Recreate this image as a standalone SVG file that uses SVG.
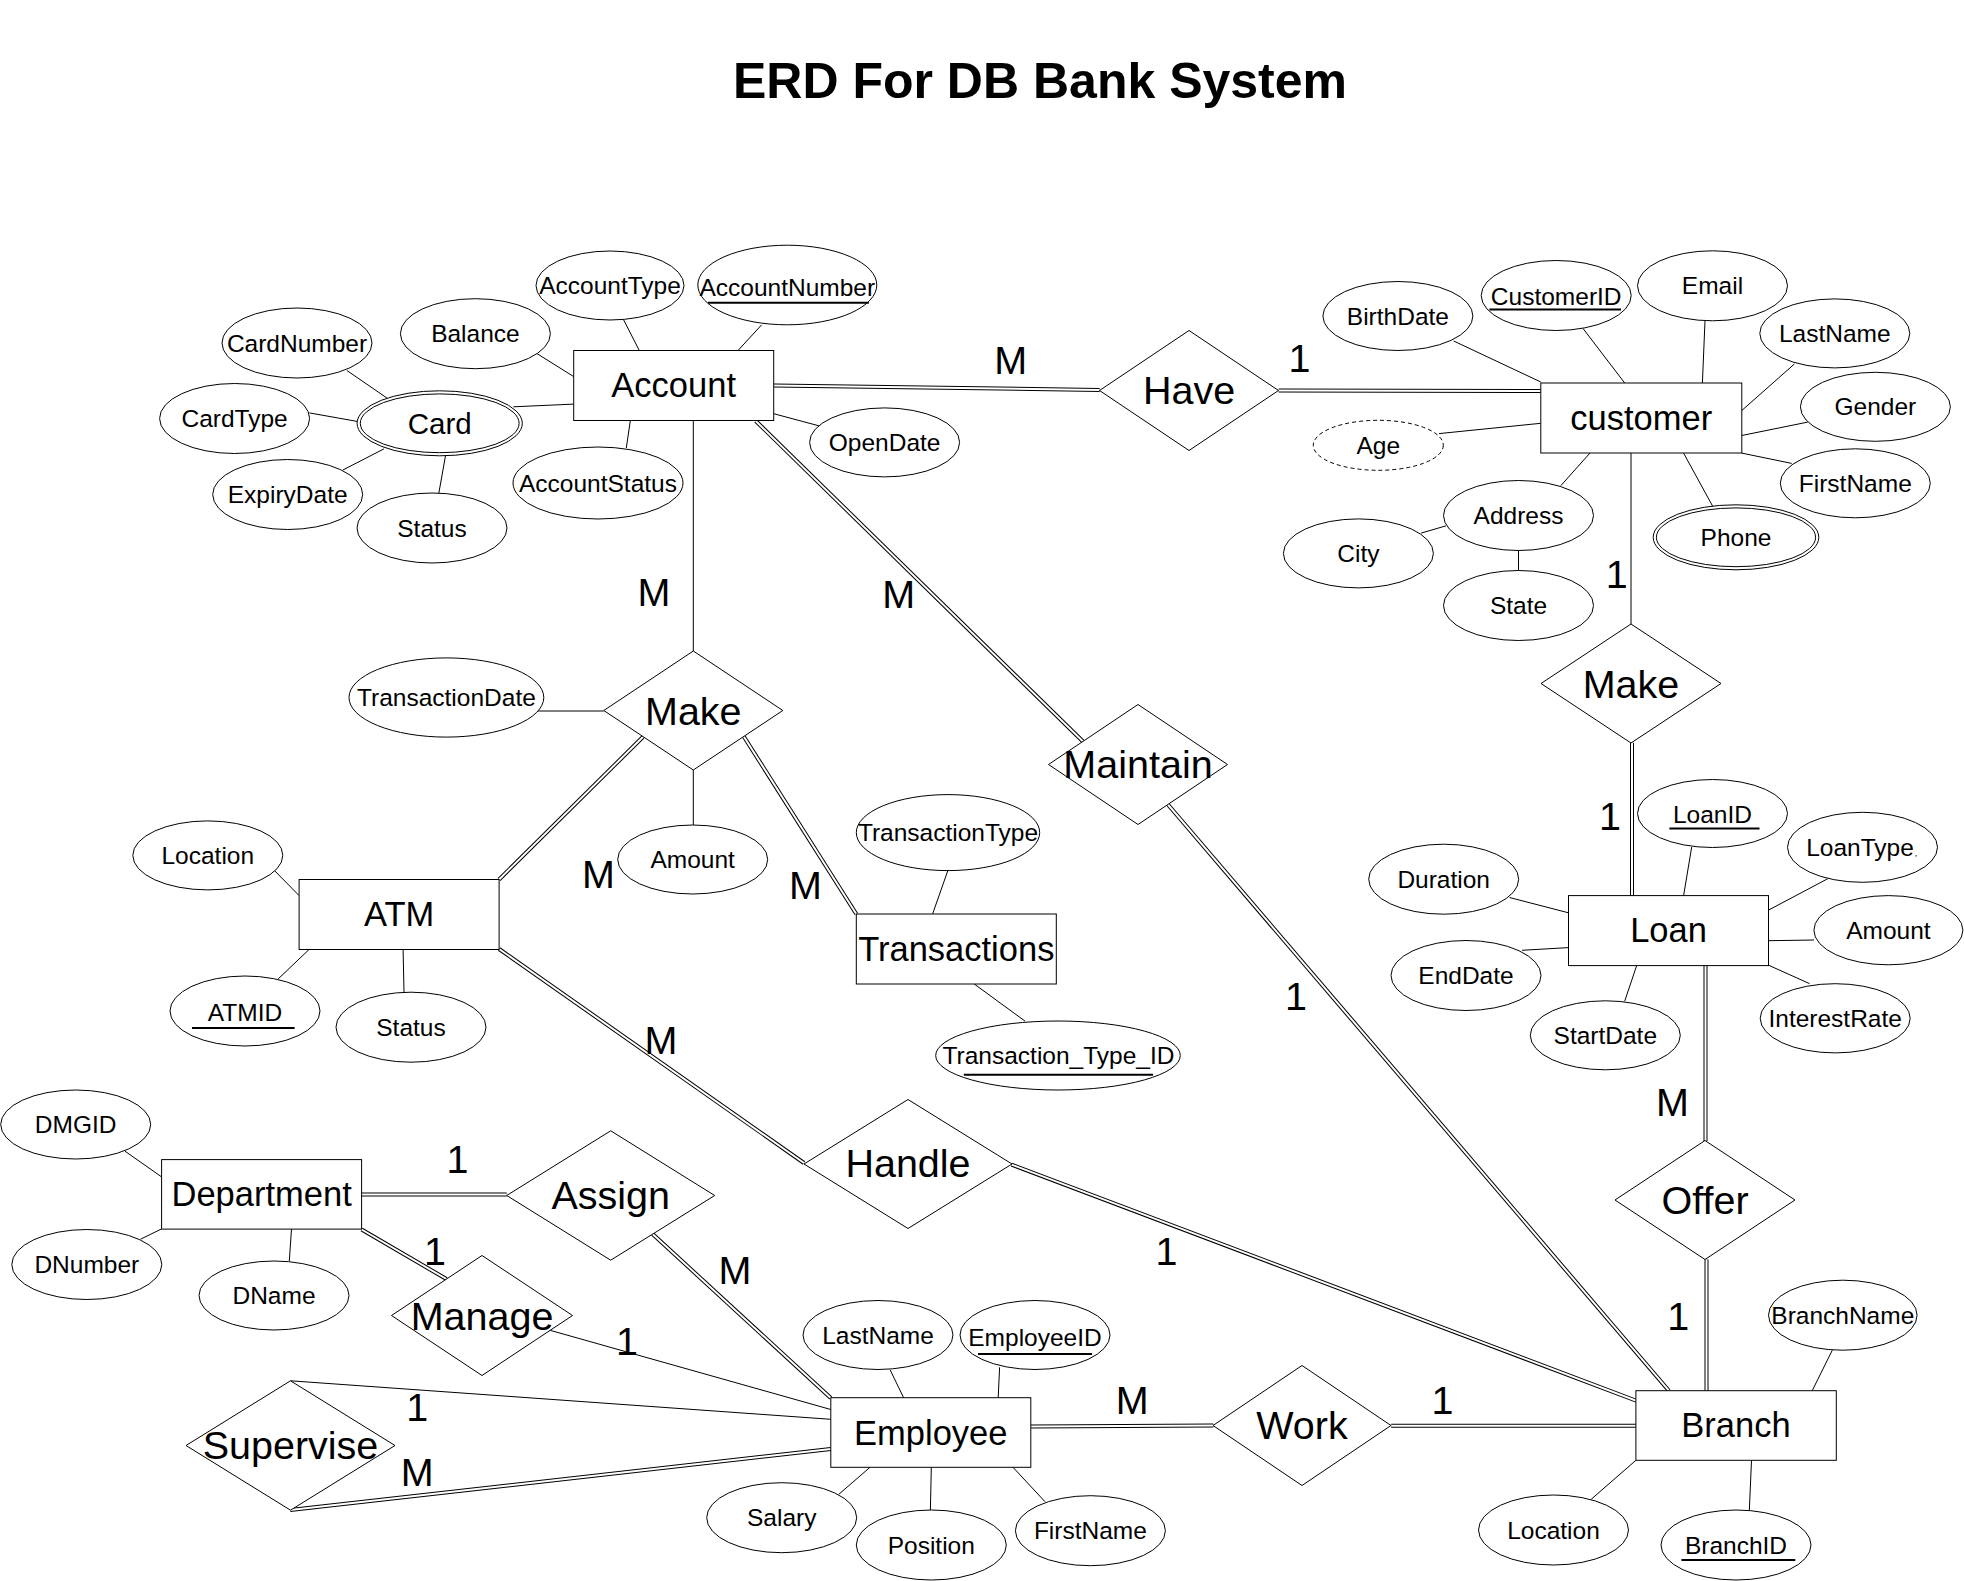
<svg xmlns="http://www.w3.org/2000/svg" width="1964" height="1581" viewBox="0 0 1964 1581">
<style>
.sh{fill:#fff;stroke:#000;stroke-width:1}
.ln line{stroke:#000;stroke-width:1}
.dbo{stroke:#000;stroke-width:4;fill:none}
.dbi{stroke:#fff;stroke-width:2;fill:none}
text{font-family:"Liberation Sans",Arial,Helvetica,sans-serif;text-anchor:middle;fill:#000}
.a{font-size:24.5px}
.en{font-size:34.5px}
.rl{font-size:39.5px}
.cd{font-size:39.5px}
.ti{font-size:50px;font-weight:bold}
.ul{stroke:#000;stroke-width:2}
.dash{stroke-dasharray:4 3}
</style>
<defs>
<path id="d1" d="M773.7 385.5 L1099.6 390"/>
<path id="d2" d="M1278.6 390.5 L1540.8 391"/>
<path id="d3" d="M755.8 421 L1083 741.5"/>
<path id="d4" d="M642.9 737 L499.1 879.5"/>
<path id="d5" d="M743.8 736.5 L856.3 914"/>
<path id="d6" d="M1632 742.8 V895.6"/>
<path id="d7" d="M1705.5 965.2 V1140.9"/>
<path id="d8" d="M1706.5 1259.5 V1390.7"/>
<path id="d9" d="M1167.9 804.5 L1668.9 1390.7"/>
<path id="d10" d="M499.1 949 L804 1163"/>
<path id="d11" d="M1011.6 1164.6 L1637 1401"/>
<path id="d12" d="M361.6 1194.5 H506.7"/>
<path id="d13" d="M361.6 1229.5 L446.4 1279"/>
<path id="d14" d="M652.6 1234 L830.8 1398"/>
<path id="d15" d="M290.2 1510 L830.8 1449"/>
<path id="d16" d="M1030.8 1426.5 L1213.4 1425.5"/>
<path id="d17" d="M1391.2 1425.7 H1635.9"/>
</defs>
<rect width="1964" height="1581" fill="#fff"/>
<text class="ti" x="1040" y="98">ERD For DB Bank System</text>

<g id="connectors">
<g class="ln">
<line x1="623.7" y1="320" x2="639.3" y2="350.5"/>
<line x1="761.6" y1="324.9" x2="738" y2="350.5"/>
<line x1="537" y1="353.6" x2="573.7" y2="376.6"/>
<line x1="513.4" y1="406.8" x2="573.7" y2="404.1"/>
<line x1="630.4" y1="420.2" x2="626.3" y2="448"/>
<line x1="773.7" y1="413.7" x2="819.6" y2="426"/>
<line x1="346.9" y1="370.5" x2="387.5" y2="398.4"/>
<line x1="309.4" y1="412.9" x2="357.1" y2="421.4"/>
<line x1="342.9" y1="470" x2="383.9" y2="448.9"/>
<line x1="438.8" y1="493.3" x2="445.5" y2="455.8"/>
<line x1="1453.7" y1="341" x2="1540.8" y2="382"/>
<line x1="1583.2" y1="328.7" x2="1624.7" y2="383"/>
<line x1="1705" y1="320.7" x2="1702.4" y2="383"/>
<line x1="1794.4" y1="364" x2="1741.7" y2="410.6"/>
<line x1="1807.8" y1="422.1" x2="1741.7" y2="435.5"/>
<line x1="1791.7" y1="463.4" x2="1741.7" y2="453.1"/>
<line x1="1439" y1="433.6" x2="1540.8" y2="423.3"/>
<line x1="1589.9" y1="453.1" x2="1560.9" y2="485.6"/>
<line x1="1683.6" y1="453.1" x2="1712.7" y2="506.3"/>
<line x1="1421.1" y1="533.1" x2="1446.1" y2="525.8"/>
<line x1="1518.5" y1="550.3" x2="1518.5" y2="570.6"/>
<line x1="693.3" y1="420.2" x2="693.3" y2="651"/>
<line x1="538" y1="711" x2="603.8" y2="711"/>
<line x1="693.3" y1="770" x2="693.3" y2="825"/>
<line x1="1631" y1="453.1" x2="1631" y2="624"/>
<line x1="947.8" y1="870.7" x2="932.6" y2="914"/>
<line x1="973.7" y1="983.6" x2="1025" y2="1021.1"/>
<line x1="274.6" y1="870.7" x2="299.1" y2="895.6"/>
<line x1="309.4" y1="949.2" x2="278.1" y2="979"/>
<line x1="403.1" y1="949.2" x2="404" y2="992.4"/>
<line x1="1691.7" y1="847" x2="1683.6" y2="895.6"/>
<line x1="1827.8" y1="878.7" x2="1768.5" y2="910.1"/>
<line x1="1509.5" y1="897.5" x2="1568.5" y2="912.8"/>
<line x1="1814" y1="940" x2="1768.5" y2="940.7"/>
<line x1="1522" y1="950.3" x2="1568.5" y2="947.6"/>
<line x1="1624.7" y1="1001.2" x2="1636.8" y2="965.2"/>
<line x1="1809.5" y1="983.6" x2="1768.5" y2="965.2"/>
<line x1="125" y1="1151.2" x2="161.6" y2="1176.9"/>
<line x1="140.6" y1="1239.2" x2="161.6" y2="1228.9"/>
<line x1="291.5" y1="1228.9" x2="289.3" y2="1261"/>
<line x1="890.2" y1="1370" x2="903.6" y2="1397.7"/>
<line x1="999.6" y1="1367.3" x2="998.2" y2="1397.7"/>
<line x1="838.8" y1="1494.3" x2="870" y2="1467.3"/>
<line x1="931.3" y1="1467.3" x2="930.4" y2="1510"/>
<line x1="1013" y1="1467.3" x2="1045" y2="1501.7"/>
<line x1="550.4" y1="1330.4" x2="830.8" y2="1409.5"/>
<line x1="290.5" y1="1380.8" x2="830.8" y2="1419.3"/>
<line x1="1832.3" y1="1350.2" x2="1812.2" y2="1390.7"/>
<line x1="1635.9" y1="1460.3" x2="1591.2" y2="1499.3"/>
<line x1="1751.5" y1="1460.3" x2="1749.3" y2="1511"/>
</g>
<g class="dbo">
<use href="#d1"/><use href="#d2"/><use href="#d3"/><use href="#d4"/><use href="#d5"/><use href="#d6"/><use href="#d7"/><use href="#d8"/><use href="#d9"/><use href="#d10"/><use href="#d11"/><use href="#d12"/><use href="#d13"/><use href="#d14"/><use href="#d15"/><use href="#d16"/><use href="#d17"/>
</g>
<g class="dbi">
<use href="#d1"/><use href="#d2"/><use href="#d3"/><use href="#d4"/><use href="#d5"/><use href="#d6"/><use href="#d7"/><use href="#d8"/><use href="#d9"/><use href="#d10"/><use href="#d11"/><use href="#d12"/><use href="#d13"/><use href="#d14"/><use href="#d15"/><use href="#d16"/><use href="#d17"/>
</g>
<g class="cd">
<text x="1010.7" y="374">M</text>
<text x="1299.6" y="372">1</text>
<text x="654" y="606">M</text>
<text x="898.7" y="608">M</text>
<text x="1616.7" y="588">1</text>
<text x="1610" y="830">1</text>
<text x="598.5" y="888">M</text>
<text x="805.4" y="899">M</text>
<text x="661" y="1054">M</text>
<text x="1296" y="1010">1</text>
<text x="1672.5" y="1115.5">M</text>
<text x="1678.3" y="1330">1</text>
<text x="1166.5" y="1264.5">1</text>
<text x="457.5" y="1173">1</text>
<text x="435" y="1264.5">1</text>
<text x="735" y="1284">M</text>
<text x="627" y="1355">1</text>
<text x="417.2" y="1420.7">1</text>
<text x="417.2" y="1485.7">M</text>
<text x="1132.2" y="1414">M</text>
<text x="1442.6" y="1413.5">1</text>
</g>
</g>

<g id="rel-have"><polygon class="sh" points="1099.5,390.5 1189,330.5 1278.5,390.5 1189,450.5"/><text class="rl" x="1189" y="404.2">Have</text></g>
<g id="rel-make-account"><polygon class="sh" points="603.8,710.5 693.3,651 782.8,710.5 693.3,770"/><text class="rl" x="693.3" y="724.7">Make</text></g>
<g id="rel-maintain"><polygon class="sh" points="1048.5,764.5 1138,704.5 1227.5,764.5 1138,824.5"/><text class="rl" x="1138" y="778.3">Maintain</text></g>
<g id="rel-make-customer"><polygon class="sh" points="1541,683.5 1631,624 1721,683.5 1631,743"/><text class="rl" x="1631" y="698">Make</text></g>
<g id="rel-offer"><polygon class="sh" points="1615,1200 1705,1140.5 1795,1200 1705,1259.5"/><text class="rl" x="1705" y="1214">Offer</text></g>
<g id="rel-handle"><polygon class="sh" points="804,1164 908,1099.5 1012,1164 908,1228.5"/><text class="rl" x="908" y="1177.2">Handle</text></g>
<g id="rel-assign"><polygon class="sh" points="506.7,1195.5 610.7,1130.8 714.7,1195.5 610.7,1260.2"/><text class="rl" x="610.7" y="1208.7">Assign</text></g>
<g id="rel-manage"><polygon class="sh" points="391.5,1315.5 482,1255.5 572.5,1315.5 482,1375.5"/><text class="rl" x="482" y="1329.5">Manage</text></g>
<g id="rel-supervise"><polygon class="sh" points="186,1445.5 290.5,1380.8 395,1445.5 290.5,1510.2"/><text class="rl" x="290.5" y="1459.2">Supervise</text></g>
<g id="rel-work"><polygon class="sh" points="1213,1425.5 1302,1365.5 1391,1425.5 1302,1485.5"/><text class="rl" x="1302" y="1439.2">Work</text></g>

<g id="ent-account"><rect class="sh" x="573.7" y="350.5" width="200" height="70"/><text class="en" x="673.7" y="397.3">Account</text></g>
<g id="ent-customer"><rect class="sh" x="1540.8" y="383" width="201" height="70"/><text class="en" x="1641.2" y="430">customer</text></g>
<g id="ent-atm"><rect class="sh" x="299.1" y="879.5" width="200" height="70"/><text class="en" x="399.1" y="926.3">ATM</text></g>
<g id="ent-transactions"><rect class="sh" x="856.3" y="914" width="200" height="70"/><text class="en" x="956.3" y="960.8">Transactions</text></g>
<g id="ent-loan"><rect class="sh" x="1568.5" y="895.6" width="200" height="70"/><text class="en" x="1668.5" y="942.4">Loan</text></g>
<g id="ent-department"><rect class="sh" x="161.6" y="1159.6" width="200" height="69.5"/><text class="en" x="261.6" y="1206.2">Department</text></g>
<g id="ent-employee"><rect class="sh" x="830.8" y="1397.7" width="200" height="69.6"/><text class="en" x="930.8" y="1444.5">Employee</text></g>
<g id="ent-branch"><rect class="sh" x="1635.9" y="1390.7" width="200.4" height="69.6"/><text class="en" x="1736" y="1437.3">Branch</text></g>

<g id="att-accounttype"><ellipse class="sh" cx="610" cy="285.5" rx="74" ry="34.5"/><text class="a" x="610" y="294">AccountType</text></g>
<g id="att-accountnumber"><ellipse class="sh" cx="787.3" cy="285" rx="89.5" ry="39.8"/><text class="a" x="787.3" y="295.5">AccountNumber</text><line class="ul" x1="708" y1="302.7" x2="868.8" y2="302.7"/></g>
<g id="att-balance"><ellipse class="sh" cx="475.4" cy="333.7" rx="75" ry="35"/><text class="a" x="475.4" y="342.2">Balance</text></g>
<g id="att-cardnumber"><ellipse class="sh" cx="297" cy="343" rx="75" ry="35"/><text class="a" x="297" y="351.5">CardNumber</text></g>
<g id="att-cardtype"><ellipse class="sh" cx="234.6" cy="418.5" rx="75" ry="35"/><text class="a" x="234.6" y="427">CardType</text></g>
<g id="att-card"><ellipse class="sh" cx="439.7" cy="423.3" rx="82.6" ry="32.5"/><ellipse class="sh" cx="439.7" cy="423.3" rx="79.4" ry="29.4"/><text x="439.7" y="434" style="font-size:29.5px">Card</text></g>
<g id="att-expirydate"><ellipse class="sh" cx="287.7" cy="494.5" rx="75" ry="35"/><text class="a" x="287.7" y="503">ExpiryDate</text></g>
<g id="att-card-status"><ellipse class="sh" cx="432" cy="528" rx="75" ry="35"/><text class="a" x="432" y="536.5">Status</text></g>
<g id="att-accountstatus"><ellipse class="sh" cx="598" cy="483" rx="85" ry="36"/><text class="a" x="598" y="491.5">AccountStatus</text></g>
<g id="att-opendate"><ellipse class="sh" cx="884.6" cy="442.4" rx="75" ry="34.5"/><text class="a" x="884.6" y="451">OpenDate</text></g>
<g id="att-transactiondate"><ellipse class="sh" cx="446.4" cy="697.5" rx="97.4" ry="39.6"/><text class="a" x="446.4" y="706">TransactionDate</text></g>
<g id="att-amount"><ellipse class="sh" cx="692.7" cy="859.5" rx="75" ry="34.5"/><text class="a" x="692.7" y="868">Amount</text></g>
<g id="att-transactiontype"><ellipse class="sh" cx="948" cy="832.6" rx="91.7" ry="38"/><text class="a" x="948" y="841">TransactionType</text></g>
<g id="att-transaction-type-id"><ellipse class="sh" cx="1058" cy="1055.5" rx="122.3" ry="34.5"/><text class="a" x="1058.5" y="1064">Transaction_Type_ID</text><line class="ul" x1="963.8" y1="1074.7" x2="1153.1" y2="1074.7"/></g>
<g id="att-atm-location"><ellipse class="sh" cx="207.8" cy="855.4" rx="75" ry="34.5"/><text class="a" x="207.8" y="864">Location</text></g>
<g id="att-atmid"><ellipse class="sh" cx="245" cy="1011" rx="75" ry="35"/><text class="a" x="245" y="1021">ATMID</text><line class="ul" x1="192" y1="1028" x2="294.6" y2="1028"/></g>
<g id="att-atm-status"><ellipse class="sh" cx="411" cy="1027.2" rx="75" ry="35"/><text class="a" x="411" y="1035.7">Status</text></g>
<g id="att-birthdate"><ellipse class="sh" cx="1397.9" cy="316" rx="75" ry="34.5"/><text class="a" x="1397.9" y="324.5">BirthDate</text></g>
<g id="att-customerid"><ellipse class="sh" cx="1556.2" cy="295.5" rx="75" ry="35"/><text class="a" x="1556.2" y="305">CustomerID</text><line class="ul" x1="1489.4" y1="309.6" x2="1621" y2="309.6"/></g>
<g id="att-email"><ellipse class="sh" cx="1712.5" cy="285.8" rx="75" ry="35"/><text class="a" x="1712.5" y="294.3">Email</text></g>
<g id="att-lastname"><ellipse class="sh" cx="1834.8" cy="333.4" rx="75" ry="34.5"/><text class="a" x="1834.8" y="342">LastName</text></g>
<g id="att-gender"><ellipse class="sh" cx="1875.4" cy="406.8" rx="75" ry="34.5"/><text class="a" x="1875.4" y="415.3">Gender</text></g>
<g id="att-age"><ellipse class="sh dash" cx="1378.3" cy="445.3" rx="65" ry="25"/><text class="a" x="1378.3" y="453.8">Age</text></g>
<g id="att-firstname"><ellipse class="sh" cx="1855.3" cy="483.3" rx="75" ry="34.5"/><text class="a" x="1855.3" y="491.8">FirstName</text></g>
<g id="att-address"><ellipse class="sh" cx="1518.5" cy="515.5" rx="75" ry="35"/><text class="a" x="1518.5" y="524">Address</text></g>
<g id="att-city"><ellipse class="sh" cx="1358.4" cy="553.4" rx="75" ry="34.5"/><text class="a" x="1358.4" y="562">City</text></g>
<g id="att-phone"><ellipse class="sh" cx="1736" cy="537.3" rx="82.8" ry="32.5"/><ellipse class="sh" cx="1736" cy="537.3" rx="79.6" ry="29.4"/><text class="a" x="1736" y="545.8">Phone</text></g>
<g id="att-state"><ellipse class="sh" cx="1518.5" cy="605.5" rx="75" ry="35"/><text class="a" x="1518.5" y="614">State</text></g>
<g id="att-loanid"><ellipse class="sh" cx="1712.5" cy="813.5" rx="75" ry="34"/><text class="a" x="1712.5" y="823">LoanID</text><line class="ul" x1="1669.4" y1="828.6" x2="1759.5" y2="828.6"/></g>
<g id="att-loantype"><ellipse class="sh" cx="1862.5" cy="847.3" rx="75" ry="35"/><text class="a" x="1860" y="855.8">LoanType</text><text x="1916" y="856" style="font-size:9px">,</text></g>
<g id="att-duration"><ellipse class="sh" cx="1443.7" cy="879.2" rx="75" ry="35"/><text class="a" x="1443.7" y="887.7">Duration</text></g>
<g id="att-loan-amount"><ellipse class="sh" cx="1888.4" cy="930.2" rx="74.5" ry="34.6"/><text class="a" x="1888.4" y="938.7">Amount</text></g>
<g id="att-enddate"><ellipse class="sh" cx="1466" cy="975.5" rx="75" ry="35"/><text class="a" x="1466" y="984">EndDate</text></g>
<g id="att-startdate"><ellipse class="sh" cx="1605.3" cy="1035.3" rx="75" ry="34.5"/><text class="a" x="1605.3" y="1043.8">StartDate</text></g>
<g id="att-interestrate"><ellipse class="sh" cx="1835.2" cy="1018.3" rx="75" ry="34.6"/><text class="a" x="1835.2" y="1026.8">InterestRate</text></g>
<g id="att-branchname"><ellipse class="sh" cx="1842.8" cy="1315.2" rx="74.3" ry="35"/><text class="a" x="1842.8" y="1323.7">BranchName</text></g>
<g id="att-branch-location"><ellipse class="sh" cx="1553.5" cy="1530" rx="75" ry="35"/><text class="a" x="1553.5" y="1538.5">Location</text></g>
<g id="att-branchid"><ellipse class="sh" cx="1736" cy="1545" rx="75" ry="35"/><text class="a" x="1736" y="1554">BranchID</text><line class="ul" x1="1681.4" y1="1560" x2="1795.3" y2="1560"/></g>
<g id="att-dmgid"><ellipse class="sh" cx="75.7" cy="1124.5" rx="75" ry="34.5"/><text class="a" x="75.7" y="1133">DMGID</text></g>
<g id="att-dnumber"><ellipse class="sh" cx="86.8" cy="1264.5" rx="75" ry="35"/><text class="a" x="86.8" y="1273">DNumber</text></g>
<g id="att-dname"><ellipse class="sh" cx="274" cy="1295.5" rx="75" ry="34.5"/><text class="a" x="274" y="1304">DName</text></g>
<g id="att-emp-lastname"><ellipse class="sh" cx="878" cy="1335" rx="75" ry="34.5"/><text class="a" x="878" y="1343.5">LastName</text></g>
<g id="att-employeeid"><ellipse class="sh" cx="1035" cy="1335" rx="75" ry="34.5"/><text class="a" x="1035" y="1345.5">EmployeeID</text><line class="ul" x1="978" y1="1354" x2="1092" y2="1354"/></g>
<g id="att-salary"><ellipse class="sh" cx="781.7" cy="1517.7" rx="75" ry="35"/><text class="a" x="781.7" y="1526.2">Salary</text></g>
<g id="att-position"><ellipse class="sh" cx="931.3" cy="1545" rx="75" ry="35"/><text class="a" x="931.3" y="1553.5">Position</text></g>
<g id="att-emp-firstname"><ellipse class="sh" cx="1090.4" cy="1530.7" rx="75" ry="35"/><text class="a" x="1090.4" y="1539.2">FirstName</text></g>
</svg>
